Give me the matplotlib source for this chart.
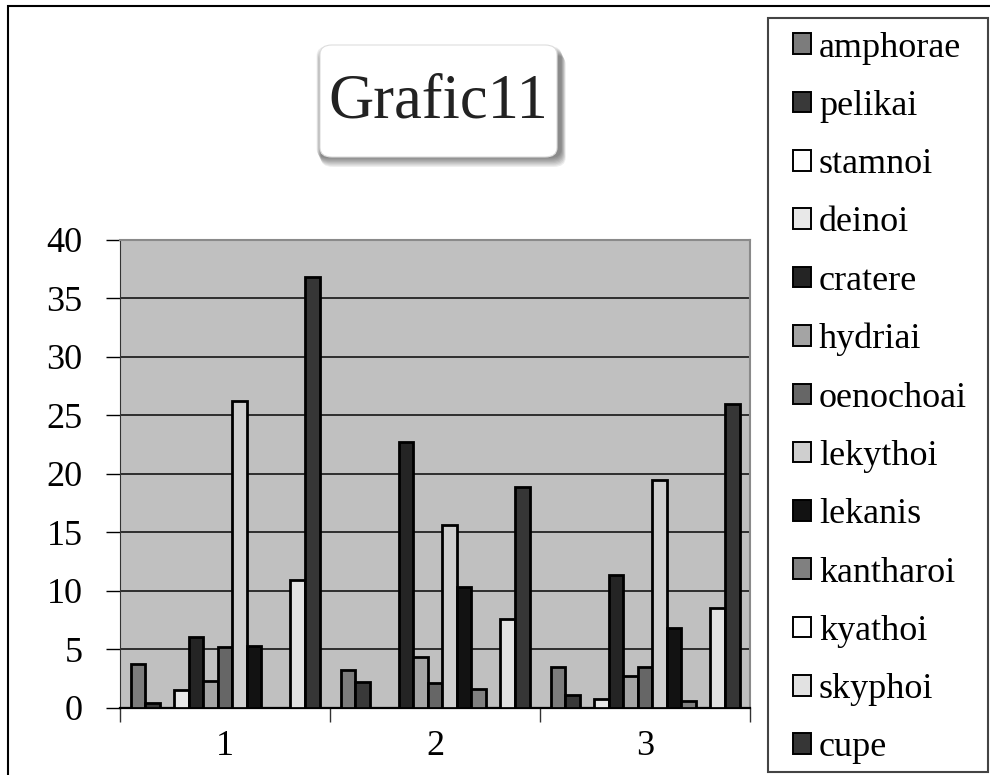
import numpy as np
import matplotlib.pyplot as plt
from matplotlib.patches import FancyBboxPatch, Rectangle

plt.rcParams['font.family'] = ['Liberation Serif', 'DejaVu Serif']

# %%
groups = ["1", "2", "3"]
series = ["amphorae", "pelikai", "stamnoi", "deinoi", "cratere", "hydriai",
          "oenochoai", "lekythoi", "lekanis", "kantharoi", "kyathoi",
          "skyphoi", "cupe"]
amphorae = [3.7, 3.25, 3.5]
pelikai = [0.35, 2.15, 1.1]
stamnoi = [0, 0, 0]
deinoi = [1.5, 0, 0.7]
cratere = [6.05, 22.7, 11.35]
hydriai = [2.25, 4.3, 2.7]
oenochoai = [5.2, 2.1, 3.5]
lekythoi = [26.25, 15.6, 19.45]
lekanis = [5.25, 10.35, 6.8]
kantharoi = [0, 1.55, 0.55]
kyathoi = [0, 0, 0]
skyphoi = [10.9, 7.55, 8.55]
cupe = [36.85, 18.9, 25.95]
values = [amphorae, pelikai, stamnoi, deinoi, cratere, hydriai, oenochoai,
          lekythoi, lekanis, kantharoi, kyathoi, skyphoi, cupe]
colors = ["#7c7c7c", "#393939", "#ffffff", "#e8e8e8", "#242424", "#a4a4a4",
          "#666666", "#cfcfcf", "#121212", "#808080", "#ffffff", "#e2e2e2",
          "#363636"]

# %%
fig = plt.figure(figsize=(9.9, 7.75), dpi=100)

# outer chart frame
fig.add_artist(Rectangle((8 / 990, -0.05), 1.2, 1 - 6 / 775 + 0.05,
                         transform=fig.transFigure, fill=False,
                         edgecolor="black", lw=1.5))

ax = fig.add_axes([120 / 990, 1 - 707.5 / 775, 630 / 990, 467.5 / 775])
ax.set_facecolor("#c0c0c0")

x = np.arange(len(groups))
w = 0.9 / len(series)
for i, s in enumerate(series):
    ax.bar(x + (i - 6) * w, values[i], w, color=colors[i], edgecolor="black",
           linewidth=2, label=s, zorder=3)

ax.set_xlim(-0.5, 2.5)
ax.set_ylim(0, 40)
ax.set_yticks(range(0, 41, 5))
ax.set_xticks(x)
ax.set_xticklabels(groups)
ax.set_xticks([-0.5, 0.5, 1.5, 2.5], minor=True)
ax.tick_params(axis="x", which="major", length=0, labelsize=26, pad=16)
ax.tick_params(axis="x", which="minor", length=10, width=1, color="#333333")
ax.tick_params(axis="y", length=10, width=1, labelsize=26, pad=17)
ax.yaxis.grid(True, color="#222222", lw=1.3, zorder=1)
for side in ["top", "right"]:
    ax.spines[side].set_color("#8a8a8a")
    ax.spines[side].set_linewidth(1.5)
ax.spines["left"].set_color("#333333")
ax.spines["bottom"].set_color("black")
ax.spines["bottom"].set_linewidth(1.6)

# legend: own frame, entries centred inside it
lx0, lx1, ly0, ly1 = 768, 988, 18, 772
fig.add_artist(Rectangle((lx0 / 990, 1 - ly1 / 775), (lx1 - lx0) / 990,
                         (ly1 - ly0) / 775, transform=fig.transFigure,
                         facecolor="white", edgecolor="#444444", lw=1.5))
handles, labels = ax.get_legend_handles_labels()
leg = fig.legend(handles, labels, loc="center",
                 bbox_to_anchor=((lx0 + lx1) / 2 / 990 + 2 / 990,
                                 1 - ((ly0 + ly1) / 2 + 3) / 775),
                 fontsize=26, frameon=False, handlelength=0.5,
                 handleheight=0.5, handletextpad=0.22, labelspacing=0.70,
                 borderpad=0, borderaxespad=0)
for h in leg.legend_handles:
    h.set_linewidth(1.4)

# title box with soft shadow
bx, by, bw, bh = 320 / 990, 1 - 157 / 775, 237 / 990, 112 / 775
for k in range(8, 0, -1):
    fig.add_artist(FancyBboxPatch((bx - 0.004 + k * 0.0006, by - k * 0.0016),
                                  bw + 0.008, bh,
                                  boxstyle="round,pad=0,rounding_size=0.012",
                                  transform=fig.transFigure, facecolor="black",
                                  edgecolor="none", alpha=0.07))
fig.add_artist(FancyBboxPatch((bx, by), bw, bh,
                              boxstyle="round,pad=0,rounding_size=0.012",
                              transform=fig.transFigure, facecolor="white",
                              edgecolor="#dddddd", lw=0.8))
fig.text(bx + bw / 2, 1 - 103 / 775, "Grafic11", ha="center", va="center",
         fontsize=45, color="#222222")

fig.savefig("out.png", dpi=100)
